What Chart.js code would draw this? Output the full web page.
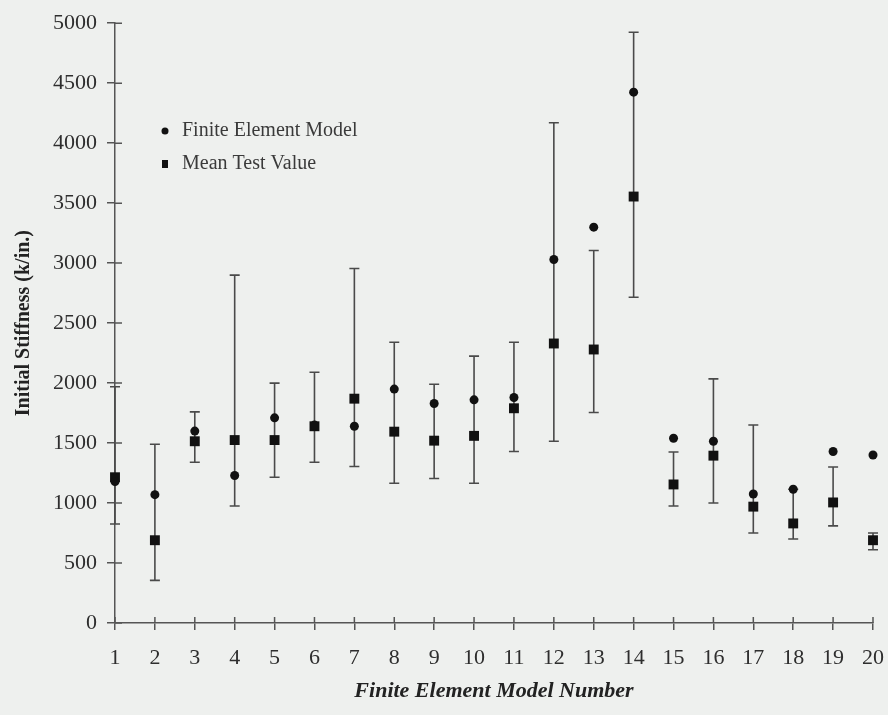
<!DOCTYPE html>
<html>
<head>
<meta charset="utf-8">
<script src="https://cdn.jsdelivr.net/npm/chart.js@4/dist/chart.umd.min.js"></script>
<style>
  html, body { margin: 0; padding: 0; background: #eef0ee; }
  canvas { display: block; }
</style>
</head>
<body>
<canvas id="stiffness" width="888" height="715"></canvas>
<script>
// model numbers on the x axis
const models = [1, 2, 3, 4, 5, 6, 7, 8, 9, 10, 11, 12, 13, 14, 15, 16, 17, 18, 19, 20];
// initial stiffness, k/in.
const feModel = [1180, 1070, 1600, 1230, 1710, 1650, 1640, 1950, 1830, 1860, 1880, 3030, 3300, 4425, 1540, 1515, 1075, 1115, 1430, 1400];
const meanTest = [1215, 690, 1515, 1525, 1525, 1640, 1870, 1595, 1520, 1560, 1790, 2330, 2280, 3555, 1155, 1395, 970, 830, 1005, 690];
// range of test values (error bars)
const errHigh = [1970, 1490, 1760, 2900, 2000, 2090, 2955, 2340, 1990, 2225, 2340, 4170, 3105, 4925, 1425, 2035, 1650, 1115, 1300, 750];
const errLow = [825, 355, 1340, 975, 1215, 1340, 1305, 1165, 1205, 1165, 1430, 1515, 1755, 2715, 975, 1000, 750, 700, 810, 610];
const yTicks = [0, 500, 1000, 1500, 2000, 2500, 3000, 3500, 4000, 4500, 5000];

const serif = "'Liberation Serif', 'DejaVu Serif', serif";
const ink = '#2e2e2e';

const errorBars = {
  id: 'errorBars',
  beforeDatasetsDraw(chart) {
    const { ctx, scales: { x, y } } = chart;
    ctx.save();
    ctx.strokeStyle = '#4a4a4a';
    ctx.lineWidth = 1.6;
    models.forEach((m, i) => {
      const px = x.getPixelForValue(m);
      const top = y.getPixelForValue(errHigh[i]);
      const bot = y.getPixelForValue(errLow[i]);
      ctx.beginPath();
      ctx.moveTo(px, top); ctx.lineTo(px, bot);
      ctx.moveTo(px - 5, top); ctx.lineTo(px + 5, top);
      ctx.moveTo(px - 5, bot); ctx.lineTo(px + 5, bot);
      ctx.stroke();
    });
    ctx.restore();
  }
};

// the axis ticks in the original cross the axis line, so add the inner half
const innerTicks = {
  id: 'innerTicks',
  beforeDatasetsDraw(chart) {
    const { ctx, scales: { x, y } } = chart;
    const ax = x.getPixelForValue(models[0]);
    const ay = y.getPixelForValue(0);
    ctx.save();
    ctx.strokeStyle = '#555';
    ctx.lineWidth = 1.5;
    ctx.beginPath();
    yTicks.forEach(v => {
      const py = y.getPixelForValue(v);
      ctx.moveTo(ax, py); ctx.lineTo(ax + 7, py);
    });
    models.forEach(m => {
      const px = x.getPixelForValue(m);
      ctx.moveTo(px, ay); ctx.lineTo(px, ay - 6);
    });
    ctx.stroke();
    ctx.restore();
  }
};

const innerLegend = {
  id: 'innerLegend',
  afterDraw(chart) {
    const { ctx } = chart;
    const x0 = 165, y0 = 131, gap = 33;
    ctx.save();
    ctx.font = '20px ' + serif;
    ctx.textBaseline = 'middle';
    chart.data.datasets.forEach((ds, i) => {
      const cy = y0 + i * gap;
      ctx.fillStyle = '#111';
      ctx.beginPath();
      if (ds.pointStyle === 'rect') {
        ctx.rect(x0 - 3, cy - 4, 6, 8);
      } else {
        ctx.arc(x0, cy, 3.5, 0, Math.PI * 2);
      }
      ctx.fill();
      ctx.fillStyle = '#3a3a3a';
      ctx.fillText(ds.label, x0 + 17, cy);
    });
    ctx.restore();
  }
};

new Chart(document.getElementById('stiffness').getContext('2d'), {
  type: 'scatter',
  data: {
    datasets: [
      {
        label: 'Finite Element Model',
        data: models.map((m, i) => ({ x: m, y: feModel[i] })),
        pointStyle: 'circle',
        pointRadius: 4.5,
        backgroundColor: '#111',
        borderColor: '#111',
        borderWidth: 0,
        clip: false
      },
      {
        label: 'Mean Test Value',
        data: models.map((m, i) => ({ x: m, y: meanTest[i] })),
        pointStyle: 'rect',
        pointRadius: 7,
        backgroundColor: '#111',
        borderColor: '#111',
        borderWidth: 0,
        clip: false
      }
    ]
  },
  options: {
    responsive: false,
    animation: false,
    layout: { padding: { top: 20, right: 15, left: 0, bottom: 0 } },
    plugins: {
      legend: { display: false },
      tooltip: { enabled: false }
    },
    scales: {
      x: {
        type: 'linear',
        min: 1,
        max: 20,
        offset: false,
        afterBuildTicks: (s) => { s.ticks = models.map(v => ({ value: v })); },
        afterFit: (s) => { s.height = 92; s.paddingLeft = 0; s.paddingRight = 0; },
        ticks: { color: ink, font: { family: serif, size: 22 }, padding: 15, maxRotation: 0, callback: (v) => String(v) },
        grid: { drawOnChartArea: false, tickLength: 7, color: '#555', lineWidth: 1.5 },
        border: { color: '#555', width: 1.5 },
        title: {
          display: true,
          text: 'Finite Element Model Number',
          color: '#222',
          font: { family: serif, size: 22, weight: 'bold', style: 'italic' },
          padding: { top: 0, bottom: 10 }
        }
      },
      y: {
        min: 0,
        max: 5000,
        afterBuildTicks: (s) => { s.ticks = yTicks.map(v => ({ value: v })); },
        afterFit: (s) => { s.width = 115; },
        ticks: { color: ink, font: { family: serif, size: 22 }, padding: 10, callback: (v) => String(v) },
        grid: { drawOnChartArea: false, tickLength: 8, color: '#555', lineWidth: 1.5 },
        border: { color: '#555', width: 1.5 },
        title: {
          display: true,
          text: 'Initial Stiffness (k/in.)',
          color: '#222',
          font: { family: serif, size: 20, weight: 'bold' },
          padding: { top: 12, bottom: 0 }
        }
      }
    }
  },
  plugins: [errorBars, innerTicks, innerLegend]
});
</script>
</body>
</html>
